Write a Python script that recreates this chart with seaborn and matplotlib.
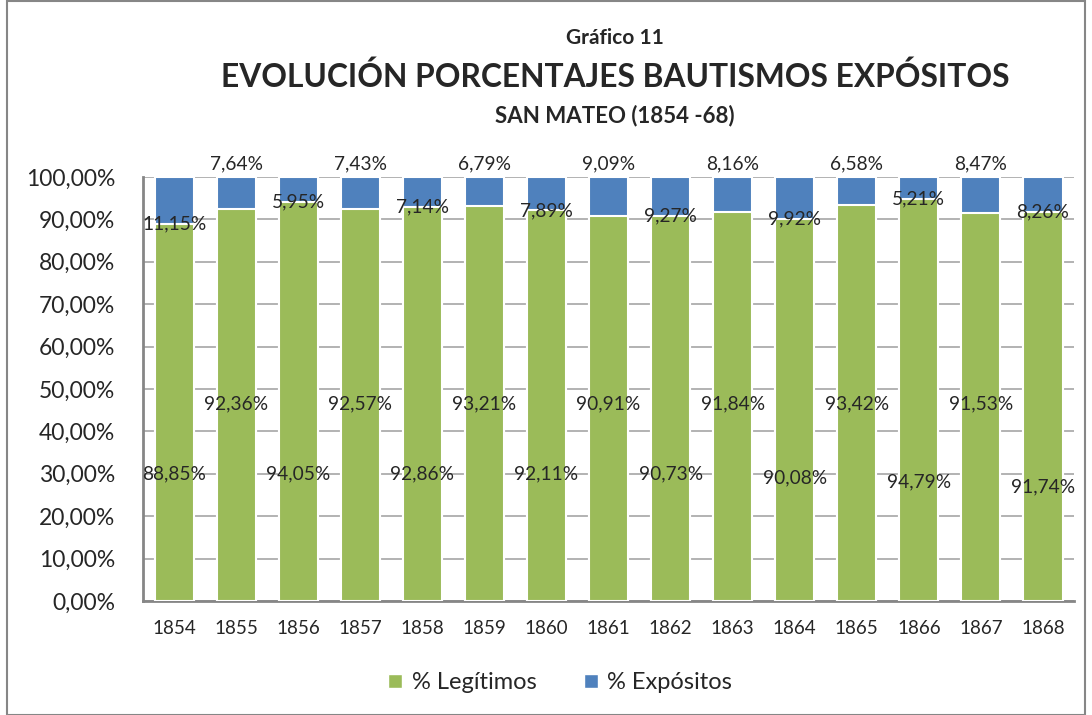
import matplotlib
matplotlib.use('Agg')
import matplotlib.pyplot as plt
from matplotlib.patches import Patch, Rectangle
import seaborn as sns
import pandas as pd
import numpy as np

years = ['1854', '1855', '1856', '1857', '1858', '1859', '1860', '1861',
         '1862', '1863', '1864', '1865', '1866', '1867', '1868']
legitimos = [88.85, 92.36, 94.05, 92.57, 92.86, 93.21, 92.11, 90.91,
             90.73, 91.84, 90.08, 93.42, 94.79, 91.53, 91.74]
expositos = [11.15, 7.64, 5.95, 7.43, 7.14, 6.79, 7.89, 9.09,
             9.27, 8.16, 9.92, 6.58, 5.21, 8.47, 8.26]

green = '#9BBB59'
blue = '#4F81BD'

sns.set_style('white')
plt.rcParams['font.family'] = ['Lato', 'DejaVu Sans']

df = pd.DataFrame({'year': years, 'leg': legitimos, 'exp': expositos})
df['total'] = df['leg'] + df['exp']

fig = plt.figure(figsize=(10.92, 7.15), dpi=100)
ax = fig.add_axes([0.131, 0.1594, 0.8525, 0.593])

sns.barplot(data=df, x='year', y='total', color=blue, width=0.63,
            edgecolor='white', linewidth=1.5, saturation=1, ax=ax, zorder=3)
sns.barplot(data=df, x='year', y='leg', color=green, width=0.63,
            edgecolor='white', linewidth=1.5, saturation=1, ax=ax, zorder=4)

ax.set_ylim(0, 100)
ax.set_xlim(-0.5, len(years) - 0.5)
ax.set_yticks(np.arange(0, 101, 10))
ax.set_yticklabels([f'{v},00%' for v in range(0, 101, 10)], fontsize=16.5)
ax.tick_params(axis='x', labelsize=13.5, pad=14, length=0)
ax.tick_params(axis='y', pad=20, length=0)
ax.set_xlabel('')
ax.set_ylabel('')
ax.yaxis.grid(True, color='#A6A6A6', linewidth=1.2, zorder=0)
ax.set_axisbelow(True)
for s in ['top', 'right']:
    ax.spines[s].set_visible(False)
for s in ['left', 'bottom']:
    ax.spines[s].set_color('#868686')
    ax.spines[s].set_linewidth(2)

# data labels (Excel-like staggered placement)
for i, (lg, ex) in enumerate(zip(legitimos, expositos)):
    txt_l = f'{lg:.2f}%'.replace('.', ',')
    txt_e = f'{ex:.2f}%'.replace('.', ',')
    if i % 2 == 0:
        yl = 30 - 0.5 * max(0, i - 8)
        ax.text(i, yl, txt_l, ha='center', va='center', fontsize=13.8, zorder=6)
        ax.text(i, lg, txt_e, ha='center', va='center', fontsize=13.8, zorder=6)
    else:
        ax.text(i, 46.5, txt_l, ha='center', va='center', fontsize=13.8, zorder=6)
        ax.text(i, 103, txt_e, ha='center', va='center', fontsize=13.8, zorder=6,
                clip_on=False)

fig.text(0.563, 0.947, 'Gráfico 11', ha='center', va='center',
         fontsize=15, fontweight='bold')
fig.text(0.563, 0.892, 'EVOLUCIÓN PORCENTAJES BAUTISMOS EXPÓSITOS', ha='center',
         va='center', fontsize=22.9, fontweight='bold')
fig.text(0.563, 0.839, 'SAN MATEO (1854 -68)', ha='center', va='center',
         fontsize=16, fontweight='bold')

handles = [Patch(facecolor=green, label='% Legítimos'),
           Patch(facecolor=blue, label='% Expósitos')]
fig.legend(handles=handles, loc='center', bbox_to_anchor=(0.513, 0.045), ncol=2,
           frameon=False, fontsize=17, handlelength=0.6, handleheight=0.6,
           handletextpad=0.4, columnspacing=2.0)

fig.patches.append(Rectangle((0.006, 0.0), 0.988, 0.998, transform=fig.transFigure,
                             fill=False, edgecolor='#868686', linewidth=1.5))

plt.savefig('out.png', dpi=100)
